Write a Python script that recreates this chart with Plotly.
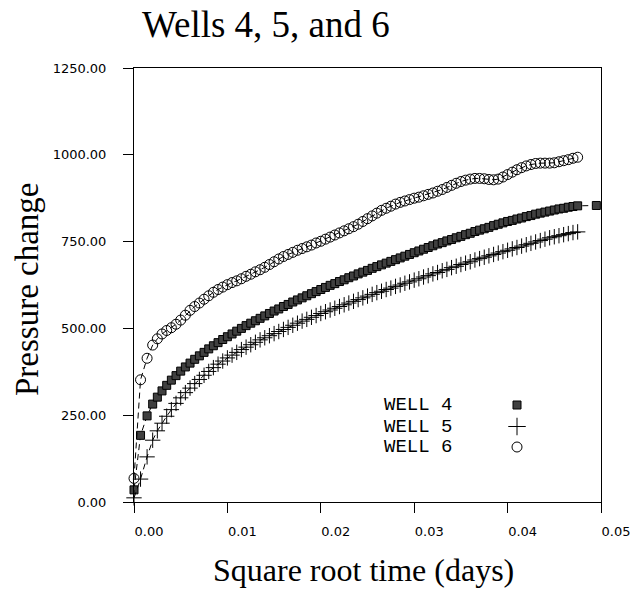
import plotly.graph_objects as go

# ---------------- data ----------------
sqrt_time = [
    0.0000, 0.0007, 0.0014, 0.0020, 0.0025, 0.0030, 0.0035, 0.0040, 0.0045, 0.0050,
    0.0055, 0.0060, 0.0065, 0.0070, 0.0075, 0.0080, 0.0085, 0.0090, 0.0095, 0.0100,
    0.0105, 0.0110, 0.0115, 0.0120, 0.0125, 0.0130, 0.0135, 0.0140, 0.0145, 0.0150,
    0.0155, 0.0160, 0.0165, 0.0170, 0.0175, 0.0180, 0.0185, 0.0190, 0.0195, 0.0200,
    0.0205, 0.0210, 0.0215, 0.0220, 0.0225, 0.0230, 0.0235, 0.0240, 0.0245, 0.0250,
    0.0255, 0.0260, 0.0265, 0.0270, 0.0275, 0.0280, 0.0285, 0.0290, 0.0295, 0.0300,
    0.0305, 0.0310, 0.0315, 0.0320, 0.0325, 0.0330, 0.0335, 0.0340, 0.0345, 0.0350,
    0.0355, 0.0360, 0.0365, 0.0370, 0.0375, 0.0380, 0.0385, 0.0390, 0.0395, 0.0400,
    0.0405, 0.0410, 0.0415, 0.0420, 0.0425, 0.0430, 0.0435, 0.0440, 0.0445, 0.0450,
    0.0455, 0.0460, 0.0465, 0.0470, 0.0475,
]

well4_pressure = [
    35, 192, 248, 282, 302, 320, 336, 351, 364, 377,
    389, 400, 411, 421, 431, 441, 450, 459, 468, 476,
    484, 492, 500, 508, 515, 522, 529, 536, 543, 550,
    556, 563, 569, 576, 582, 588, 594, 600, 606, 612,
    618, 624, 629, 635, 640, 646, 651, 657, 662, 667,
    673, 678, 683, 688, 693, 698, 703, 708, 713, 718,
    723, 728, 733, 738, 743, 747, 752, 756, 761, 765,
    770, 774, 779, 783, 787, 791, 796, 800, 804, 808,
    811, 815, 818, 822, 825, 829, 832, 835, 838, 841,
    844, 846, 849, 851, 853,
]
well4_late_time = [0.0495]
well4_late_pressure = [854]

well5_pressure = [
    12, 66, 130, 178, 205, 227, 247, 266, 284, 300,
    315, 328, 341, 353, 365, 376, 387, 397, 406, 415,
    423, 431, 439, 446, 453, 460, 467, 473, 479, 485,
    491, 497, 503, 509, 515, 521, 526, 532, 537, 543,
    548, 553, 558, 563, 568, 573, 578, 583, 588, 593,
    598, 603, 607, 612, 616, 621, 625, 630, 634, 639,
    643, 648, 652, 657, 661, 666, 670, 675, 679, 684,
    688, 692, 697, 701, 705, 709, 713, 717, 721, 725,
    729, 733, 737, 741, 745, 749, 753, 757, 761, 764,
    767, 770, 773, 776, 778,
]

well6_pressure = [
    68, 352, 414, 452, 470, 484, 494, 502, 512, 524,
    538, 552, 563, 573, 584, 594, 604, 612, 619, 626,
    632, 637, 643, 650, 656, 663, 669, 676, 684, 692,
    700, 707, 713, 719, 725, 730, 735, 740, 746, 751,
    757, 763, 769, 775, 781, 787, 793, 800, 808, 816,
    824, 832, 840, 846, 852, 858, 863, 867, 871, 875,
    878, 882, 886, 890, 895, 900, 906, 912, 918, 923,
    927, 930, 932, 932, 931, 929, 928, 930, 936, 943,
    950, 957, 963, 968, 972, 975, 976, 976, 976, 977,
    980, 983, 986, 990, 993,
]

x_ticks = [0.00, 0.01, 0.02, 0.03, 0.04, 0.05]
y_ticks = [0, 250, 500, 750, 1000, 1250]
legend_labels = ["WELL 4", "WELL 5", "WELL 6"]

# ---------------- layout geometry ----------------
FIG_W, FIG_H = 632, 592
M_L, M_R, M_T, M_B = 134, 31, 68, 90
PLOT_W = FIG_W - M_L - M_R
PLOT_H = FIG_H - M_T - M_B


def pxx(px):
    return (px - M_L) / PLOT_W


def pxy(py):
    return (FIG_H - M_B - py) / PLOT_H


LINE = dict(color="black", width=1, dash="6px,4px")
STYLES = [
    dict(symbol="square", size=8, color="#404040", line=dict(color="black", width=1)),
    dict(symbol="cross-thin", size=11, color="black", line=dict(color="black", width=1)),
    dict(symbol="circle-open", size=10, color="black", line=dict(color="black", width=1)),
]

fig = go.Figure()

series = [
    (sqrt_time + well4_late_time, well4_pressure + well4_late_pressure),
    (sqrt_time, well5_pressure),
    (sqrt_time, well6_pressure),
]
for (xs, ys), st, name in zip(series, STYLES, legend_labels):
    fig.add_trace(go.Scatter(
        x=xs, y=ys, mode="lines+markers", name=name,
        line=LINE, marker=st, cliponaxis=False, showlegend=False,
    ))

# legend keys (drawn on an overlay 0..1 axis pair)
key_x = pxx(517)
key_rows = [pxy(405), pxy(426.5), pxy(447)]
key_styles = [
    dict(symbol="square", size=8, color="#404040", line=dict(color="black", width=1)),
    dict(symbol="cross-thin", size=12.5, color="black", line=dict(color="black", width=1)),
    dict(symbol="circle-open", size=10, color="black", line=dict(color="black", width=1)),
]
for yk, st, name in zip(key_rows, key_styles, legend_labels):
    fig.add_trace(go.Scatter(
        x=[key_x], y=[yk], xaxis="x2", yaxis="y2", mode="markers",
        marker=st, showlegend=False, cliponaxis=False, name=name,
    ))

axis_common = dict(
    showline=True, linecolor="black", linewidth=1, mirror=True,
    ticks="outside", ticklen=10, tickwidth=1, tickcolor="black",
    showgrid=False, zeroline=False, automargin=False,
    tickfont=dict(family="DejaVu Sans", size=13, color="black"),
)
fig.update_layout(
    width=FIG_W, height=FIG_H,
    margin=dict(l=M_L, r=M_R, t=M_T, b=M_B, pad=0, autoexpand=False),
    paper_bgcolor="white", plot_bgcolor="white",
    xaxis=dict(range=[0, 0.05], tickvals=x_ticks, tickformat=".2f",
               ticklabelstandoff=7, ticklabelshift=15, **axis_common),
    yaxis=dict(range=[0, 1250], tickvals=y_ticks, tickformat=".2f",
               ticklabelstandoff=14, **axis_common),
    xaxis2=dict(overlaying="x", range=[0, 1], visible=False),
    yaxis2=dict(overlaying="y", range=[0, 1], visible=False),
)

annotations = [
    dict(text="Wells 4, 5, and 6", x=pxx(140), y=pxy(25), xanchor="left", yanchor="middle",
         font=dict(family="Liberation Serif", size=37, color="black")),
    dict(text="Square root time (days)", x=pxx(363), y=pxy(570), xanchor="center", yanchor="middle",
         font=dict(family="Liberation Serif", size=32, color="black")),
    dict(text="Pressure change", x=pxx(27), y=pxy(289), xanchor="center", yanchor="middle",
         textangle=-90, font=dict(family="Liberation Serif", size=33, color="black")),
]
for label, yk in zip(legend_labels, key_rows):
    annotations.append(dict(text=label, x=pxx(382), y=yk, xanchor="left", yanchor="middle",
                            font=dict(family="Liberation Mono", size=19, color="black")))
for a in annotations:
    a.update(xref="paper", yref="paper", showarrow=False)
fig.update_layout(annotations=annotations)

fig.write_html("out.html")
